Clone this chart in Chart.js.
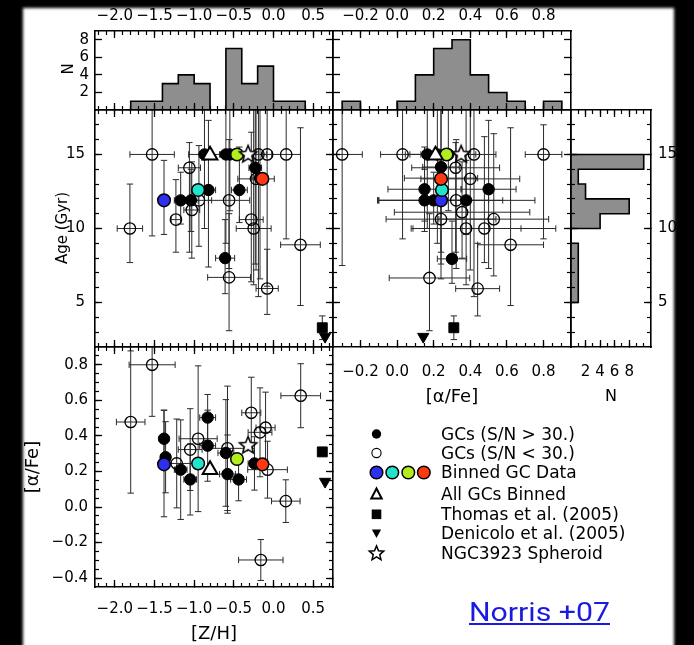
<!DOCTYPE html>
<html>
<head>
<meta charset="utf-8">
<title>Norris +07 - NGC3923 globular clusters</title>
<script src="https://cdn.jsdelivr.net/npm/chart.js@4.4.1/dist/chart.umd.min.js"></script>
<style>
  html, body { margin: 0; padding: 0; background: #000; }
  #page { position: relative; width: 694px; height: 645px; overflow: hidden; background: #000; }
  #paper { position: absolute; left: 23px; top: 8px; width: 651px; height: 660px; background: #fff; filter: blur(1.5px); }
  #page canvas, #page svg { position: absolute; left: 0; top: 0; }
  .t { position: absolute; font-family: 'DejaVu Sans', sans-serif; color: #000; white-space: nowrap; line-height: 1; transform: translate(-50%, -50%); }
  .r { transform: translate(-50%, -50%) rotate(-90deg); }
  .leg { position: absolute; left: 441px; font-family: 'DejaVu Sans', sans-serif; font-size: 17px; line-height: 20px; white-space: nowrap; color: #000; }
  #cite { position: absolute; left: 469px; top: 600px; font-family: Roboto, sans-serif; font-size: 25px; line-height: 25px; color: #1a1ae0; text-decoration: underline; white-space: nowrap; transform: scaleX(1.21); transform-origin: left center; }
</style>
</head>
<body>
<div id="page">
  <div id="paper"></div>
  <canvas id="cHA" width="694" height="645"></canvas>
  <canvas id="cHB" width="694" height="645"></canvas>
  <canvas id="cHR" width="694" height="645"></canvas>
  <canvas id="cA" width="694" height="645"></canvas>
  <canvas id="cB" width="694" height="645"></canvas>
  <canvas id="cC" width="694" height="645"></canvas>
  <svg id="keys" width="694" height="645"></svg>

  <div class="t r" style="left:68px;top:69px;font-size:15px">N</div>
  <div class="t r" style="left:62px;top:228px;font-size:15px">Age (Gyr)</div>
  <div class="t r" style="left:32px;top:467px;font-size:18px">[α/Fe]</div>
  <div class="t" style="left:214px;top:633px;font-size:18px">[Z/H]</div>
  <div class="t" style="left:452px;top:396px;font-size:18px">[α/Fe]</div>
  <div class="t" style="left:611px;top:396px;font-size:16px">N</div>

  <div class="leg" style="top:424px">GCs (S/N &gt; 30.)</div>
  <div class="leg" style="top:443px">GCs (S/N &lt; 30.)</div>
  <div class="leg" style="top:462px">Binned GC Data</div>
  <div class="leg" style="top:484px">All GCs Binned</div>
  <div class="leg" style="top:504px">Thomas et al. (2005)</div>
  <div class="leg" style="top:523px">Denicolo et al. (2005)</div>
  <div class="leg" style="top:543px">NGC3923 Spheroid</div>

  <a id="cite">Norris +07</a>
</div>

<script>
// ---- axis ranges and tick labels ----
const zhRange = [-2.25, 0.75];
const ageRange = [2, 18];
const afeRangeX = [-0.35, 0.95];
const afeRangeY = [-0.45, 0.9];
const nTopRange = [0, 9];
const nSideRange = [0, 11];

const zhTicks = [-2.0, -1.5, -1.0, -0.5, 0.0, 0.5];
const zhTickLabels = ['−2.0', '−1.5', '−1.0', '−0.5', '0.0', '0.5'];
const ageTicks = [5, 10, 15];
const ageTickLabels = ['5', '10', '15'];
const afeTicksX = [-0.2, 0.0, 0.2, 0.4, 0.6, 0.8];
const afeTickLabelsX = ['−0.2', '0.0', '0.2', '0.4', '0.6', '0.8'];
const afeTicksY = [-0.4, -0.2, 0.0, 0.2, 0.4, 0.6, 0.8];
const afeTickLabelsY = ['−0.4', '−0.2', '0.0', '0.2', '0.4', '0.6', '0.8'];
const nTicks = [2, 4, 6, 8];
const nTickLabels = ['2', '4', '6', '8'];

// ---- histograms (bin edges, counts) ----
const zhBinEdges = [-1.8, -1.6, -1.4, -1.2, -1.0, -0.8, -0.6, -0.4, -0.2, 0.0, 0.2, 0.4];
const zhBinCounts = [1, 1, 3, 4, 3, 0, 7, 3, 5, 1, 1];
const afeBinEdges = [-0.3, -0.2, -0.1, 0.0, 0.1, 0.2, 0.3, 0.4, 0.5, 0.6, 0.7, 0.8, 0.9];
const afeBinCounts = [1, 0, 0, 1, 4, 7, 8, 4, 2, 1, 0, 1];
const ageBinEdges = [5, 6, 7, 8, 9, 10, 11, 12, 13, 14, 15];
const ageBinCounts = [1, 1, 1, 1, 0, 4, 8, 2, 1, 10];

// ---- Age vs [Z/H]: [Z/H], err, age, age low, age high ----
const ageZhHiSN = [
  [-1.38, 0.07, 11.9, 9.6, 14.6], [-1.17, 0.08, 11.9, 10.3, 13.8], [-1.04, 0.09, 11.9, 9.8, 14.0],
  [-0.82, 0.09, 12.6, 7.4, 17.3], [-0.87, 0.20, 15.0, 10.0, 18.5], [-0.60, 0.08, 15.0, 9.0, 18.5],
  [-0.55, 0.10, 15.0, 11.2, 18.5], [-0.23, 0.08, 14.1, 7.6, 18.5], [-0.43, 0.10, 12.6, 10.4, 15.5],
  [-0.61, 0.12, 8.0, 5.6, 10.6], [-0.17, 0.10, 13.4, 6.6, 18.5]
];
const ageZhLoSN = [
  [-1.53, 0.28, 15.0, 9.5, 18.5], [-1.81, 0.16, 10.0, 7.7, 13.0], [-1.23, 0.06, 10.6, 8.4, 13.3],
  [-1.06, 0.14, 14.1, 8.4, 15.8], [-1.03, 0.10, 11.25, 8.0, 14.5], [-0.94, 0.16, 11.9, 8.8, 15.6],
  [-0.56, 0.26, 11.9, 7.3, 16.0], [-0.56, 0.27, 6.7, 3.1, 11.0], [-0.28, 0.15, 10.6, 6.4, 16.5],
  [-0.25, 0.22, 10.0, 6.2, 18.5], [-0.08, 0.14, 5.95, 4.2, 8.6], [0.34, 0.25, 8.9, 4.8, 16.8],
  [0.16, 0.18, 15.0, 9.3, 18.5], [-0.19, 0.10, 15.0, 5.4, 18.5], [-0.08, 0.06, 15.0, 6.1, 18.5],
  [-0.22, 0.23, 13.35, 7.2, 18.5]
];

// ---- Age vs [alpha/Fe]: [a/Fe], err, age, age low, age high ----
const ageAfeHiSN = [
  [0.165, 0.12, 15.0, 10.0, 18.5], [0.22, 0.15, 15.0, 9.0, 18.5], [0.28, 0.15, 15.0, 11.2, 18.5],
  [0.24, 0.10, 14.15, 7.6, 18.5], [0.24, 0.20, 13.4, 6.6, 18.5], [0.15, 0.20, 12.65, 10.5, 15.5],
  [0.50, 0.15, 12.65, 7.3, 17.3], [0.15, 0.25, 11.9, 9.8, 14.0], [0.20, 0.30, 11.9, 10.3, 13.8],
  [0.377, 0.20, 11.9, 9.6, 14.6], [0.30, 0.08, 7.95, 6.3, 10.5]
];
const ageAfeLoSN = [
  [-0.30, 0.11, 15.0, 7.5, 18.5], [0.03, 0.12, 15.0, 9.3, 18.5], [0.42, 0.12, 15.0, 5.4, 18.5],
  [0.80, 0.10, 15.0, 9.3, 17.0], [0.32, 0.24, 14.1, 8.4, 15.8], [0.40, 0.27, 13.35, 7.2, 18.5],
  [0.323, 0.43, 11.9, 7.3, 16.0], [0.355, 0.37, 11.1, 8.0, 14.5], [0.24, 0.30, 10.63, 8.4, 13.3],
  [0.528, 0.30, 10.63, 6.8, 16.4], [0.377, 0.30, 10.0, 6.2, 18.5], [0.477, 0.39, 10.0, 7.7, 16.2],
  [0.62, 0.18, 8.9, 4.8, 16.8], [0.177, 0.22, 6.66, 3.1, 11.0], [0.44, 0.12, 5.94, 4.1, 9.0]
];

// ---- [alpha/Fe] vs [Z/H]: [Z/H], err, [a/Fe], err ----
const afeZhHiSN = [
  [-1.38, 0.06, 0.384, 0.16], [-1.36, 0.06, 0.28, 0.20], [-1.38, 0.06, 0.245, 0.30],
  [-1.17, 0.08, 0.21, 0.28], [-1.05, 0.08, 0.155, 0.20], [-0.83, 0.10, 0.503, 0.13],
  [-0.83, 0.10, 0.345, 0.20], [-0.60, 0.10, 0.304, 0.30], [-0.58, 0.10, 0.185, 0.22],
  [-0.44, 0.10, 0.155, 0.12], [-0.24, 0.08, 0.245, 0.15]
];
const afeZhLoSN = [
  [-1.53, 0.29, 0.80, 0.29], [-1.80, 0.18, 0.478, 0.40], [-1.22, 0.20, 0.245, 0.25],
  [-1.05, 0.15, 0.323, 0.23], [-0.95, 0.24, 0.384, 0.41], [-0.58, 0.25, 0.33, 0.35],
  [-0.28, 0.12, 0.53, 0.20], [-0.17, 0.15, 0.42, 0.25], [-0.10, 0.12, 0.446, 0.20],
  [-0.075, 0.25, 0.21, 0.16], [0.155, 0.18, 0.033, 0.12], [0.343, 0.25, 0.626, 0.18],
  [-0.16, 0.28, -0.298, 0.115]
];

// ---- binned points and comparison objects ----
const binZh = [-1.38, -0.95, -0.46, -0.14];
const binAfe = [0.24, 0.245, 0.27, 0.24];
const binAge = [11.9, 12.6, 15.0, 13.35];
const binColors = ['#2f2ff0', '#22e4cc', '#b2ee1e', '#ff3a12'];
const allBinned = { zh: -0.80, afe: 0.21, age: 14.95 };
const spheroid = { zh: -0.32, afe: 0.35, age: 15.05 };
const thomas05 = { zh: 0.615, afe: 0.31, age: 3.3, ageErr: 0.8 };
const denicolo05 = { zh: 0.65, afe: 0.143, age: 2.7 };

// ---- layout ----
const W = 694, H = 645;
const X0 = 95, X1 = 333, X2 = 571, X3 = 651;
const Y0 = 31, Y1 = 110, Y2 = 347, Y3 = 587;
const tickFont = { family: 'DejaVu Sans', size: 15 };
const labelBox = { left: 50, right: 30, top: 30, bottom: 36 };

function starPoints(cx, cy, R, ratio) {
  const pts = [];
  for (let k = 0; k < 10; k++) {
    const rad = k % 2 ? R * ratio : R;
    const a = -Math.PI / 2 + k * Math.PI / 5;
    pts.push([cx + rad * Math.cos(a), cy + rad * Math.sin(a)]);
  }
  return pts;
}

const starImg = (() => {
  const s = 22, c = document.createElement('canvas');
  c.width = c.height = s;
  const g = c.getContext('2d');
  g.beginPath();
  starPoints(s / 2, s / 2 + 0.8, 9, 0.45).forEach((p, i) => i ? g.lineTo(p[0], p[1]) : g.moveTo(p[0], p[1]));
  g.closePath();
  g.fillStyle = '#fff'; g.fill();
  g.lineWidth = 1.6; g.strokeStyle = '#000'; g.stroke();
  return c;
})();

// one side of a panel frame: major ticks (+labels) and minor ticks, all pointing inward
function side(id, pos, range, major, labels, pad, minorStep) {
  const horiz = pos === 'top' || pos === 'bottom';
  const size = labels ? labelBox[pos] : 0;
  const common = { type: 'linear', axis: horiz ? 'x' : 'y', position: pos, min: range[0], max: range[1] };
  const scales = {};
  scales[id] = Object.assign({}, common, {
    weight: 1,
    afterFit: s => { if (horiz) s.height = size; else s.width = size; },
    afterBuildTicks: s => { s.ticks = major.map(v => ({ value: v })); },
    grid: { drawOnChartArea: false, tickLength: -7, tickWidth: 1.3, tickColor: '#000', z: 1 },
    border: { display: true, color: '#000', width: 1.6, z: 1 },
    ticks: labels
      ? { autoSkip: false, maxTicksLimit: 100, maxRotation: 0, minRotation: 0, padding: pad, color: '#000', font: tickFont, callback: (v, i) => labels[i] }
      : { display: false, maxTicksLimit: 100 }
  });
  if (minorStep) {
    const minor = [];
    const k0 = Math.ceil(range[0] / minorStep + 1e-6), k1 = Math.floor(range[1] / minorStep - 1e-6);
    for (let k = k0; k <= k1; k++) minor.push(+(k * minorStep).toFixed(4));
    scales[id + 'm'] = Object.assign({}, common, {
      weight: 0,
      afterFit: s => { if (horiz) s.height = 0; else s.width = 0; },
      afterBuildTicks: s => { s.ticks = minor.map(v => ({ value: v })); },
      grid: { drawOnChartArea: false, tickLength: -4, tickWidth: 1.2, tickColor: '#000', z: 1 },
      border: { display: false },
      ticks: { display: false, maxTicksLimit: 1000 }
    });
  }
  return { scales, pos, size };
}

function panel(id, box, sides, datasets) {
  const scales = {}, used = { left: 0, right: 0, top: 0, bottom: 0 };
  sides.forEach(s => { Object.assign(scales, s.scales); used[s.pos] = Math.max(used[s.pos], s.size); });
  return new Chart(document.getElementById(id), {
    type: 'scatter',
    data: { datasets },
    options: {
      responsive: false, animation: false, events: [],
      layout: {
        autoPadding: false,
        padding: { left: box[0] - used.left, top: box[1] - used.top, right: W - box[2] - used.right, bottom: H - box[3] - used.bottom }
      },
      plugins: { legend: { display: false }, tooltip: { enabled: false } },
      scales
    }
  });
}

// histogram outlines through the library's stepped lines
function stepsUp(edges, counts) {
  const pts = [{ x: edges[0], y: 0 }];
  counts.forEach((c, i) => pts.push({ x: edges[i], y: c }));
  pts.push({ x: edges[edges.length - 1], y: 0 });
  return pts;
}
function stepsSide(edges, counts) {
  const pts = [{ x: 0, y: edges[0] }];
  counts.forEach((c, i) => pts.push({ x: c, y: edges[i] }));
  pts.push({ x: 0, y: edges[edges.length - 1] });
  return pts;
}
const histStyle = { showLine: true, pointRadius: 0, borderColor: '#000', borderWidth: 1.6, backgroundColor: '#8e8e8e', xAxisID: 'x', yAxisID: 'y' };

// error bars: segments separated by gaps, caps drawn as 'line' points
function errorBars(pts) {
  const v = [], h = [];
  pts.forEach(p => {
    if (p.y0 !== p.y1) v.push({ x: p.x, y: p.y0 }, { x: p.x, y: p.y1 }, { x: p.x, y: null });
    if (p.x0 !== p.x1) h.push({ x: p.x0, y: p.y }, { x: p.x1, y: p.y }, { x: null, y: p.y });
  });
  const common = {
    showLine: true, spanGaps: false, borderColor: '#2a2a2a', borderWidth: 1,
    pointStyle: 'line', pointRadius: 3.2, pointBorderColor: '#2a2a2a', pointBorderWidth: 1,
    clip: 0, order: 20, xAxisID: 'x', yAxisID: 'y'
  };
  return [
    Object.assign({ data: v, pointRotation: 0 }, common),
    Object.assign({ data: h, pointRotation: 90 }, common)
  ];
}

const dot = (pts, style) => Object.assign({ data: pts, xAxisID: 'x', yAxisID: 'y', pointStyle: 'circle' }, style);

function gcSets(hi, lo, bins, all, sph, tho, den, extraBars) {
  return [
    dot([sph], { pointStyle: starImg, pointRadius: 10, order: 0 }),
    dot([all], { pointStyle: 'triangle', pointRadius: 8.5, backgroundColor: '#fff', borderColor: '#000', borderWidth: 2, order: 1 }),
    dot(bins, { pointRadius: 6.3, backgroundColor: binColors, borderColor: '#000', borderWidth: 1.5, order: 2 }),
    dot([tho], { pointStyle: 'rect', pointRadius: 7, backgroundColor: '#000', borderColor: '#000', borderWidth: 1, order: 3 }),
    dot([den], { pointStyle: 'triangle', pointRotation: 180, pointRadius: 6.5, backgroundColor: '#000', borderColor: '#000', borderWidth: 1, order: 3 }),
    dot(hi, { pointRadius: 5.7, backgroundColor: '#000', borderColor: '#000', borderWidth: 1, order: 4 }),
    dot(lo, { pointRadius: 5.7, backgroundColor: 'rgba(0,0,0,0)', borderColor: '#000', borderWidth: 1.3, order: 5 })
  ].concat(errorBars(hi.concat(lo, extraBars)));
}

const rangeRow = r => ({ x: r[0], y: r[2], x0: r[0] - r[1], x1: r[0] + r[1], y0: r[3], y1: r[4] });
const symRow = r => ({ x: r[0], y: r[2], x0: r[0] - r[1], x1: r[0] + r[1], y0: r[2] - r[3], y1: r[2] + r[3] });
const thomasBar = x => ({ x, y: thomas05.age, x0: x, x1: x, y0: thomas05.age - thomas05.ageErr, y1: thomas05.age + thomas05.ageErr });

// ---- top-left histogram: [Z/H] ----
panel('cHA', [X0, Y0, X1, Y1], [
    side('x', 'bottom', zhRange, zhTicks, null, 0, 0.1),
    side('xt', 'top', zhRange, zhTicks, zhTickLabels, 13, 0.1),
    side('y', 'left', nTopRange, nTicks, nTickLabels, 13, 0),
    side('yr', 'right', nTopRange, nTicks, null, 0, 0)],
  [Object.assign({ data: stepsUp(zhBinEdges, zhBinCounts), stepped: 'before', fill: 'origin' }, histStyle)]);

// ---- top-middle histogram: [alpha/Fe] ----
panel('cHB', [X1, Y0, X2, Y1], [
    side('x', 'bottom', afeRangeX, afeTicksX, null, 0, 0.05),
    side('xt', 'top', afeRangeX, afeTicksX, afeTickLabelsX, 13, 0.05),
    side('y', 'left', nTopRange, nTicks, null, 0, 0),
    side('yr', 'right', nTopRange, nTicks, null, 0, 0)],
  [Object.assign({ data: stepsUp(afeBinEdges, afeBinCounts), stepped: 'before', fill: 'origin' }, histStyle)]);

// ---- right histogram: age ----
panel('cHR', [X2, Y1, X3, Y2], [
    side('x', 'bottom', nSideRange, nTicks, nTickLabels, 23.5, 1),
    side('xt', 'top', nSideRange, nTicks, null, 0, 1),
    side('y', 'left', ageRange, ageTicks, null, 0, 1),
    side('yr', 'right', ageRange, ageTicks, ageTickLabels, 14, 1)],
  [Object.assign({ data: stepsSide(ageBinEdges, ageBinCounts), stepped: 'after', fill: 'shape' }, histStyle)]);

// ---- Age vs [Z/H] ----
panel('cA', [X0, Y1, X1, Y2], [
    side('x', 'bottom', zhRange, zhTicks, null, 0, 0.1),
    side('xt', 'top', zhRange, zhTicks, null, 0, 0.1),
    side('y', 'left', ageRange, ageTicks, ageTickLabels, 17, 1),
    side('yr', 'right', ageRange, ageTicks, null, 0, 1)],
  gcSets(ageZhHiSN.map(rangeRow), ageZhLoSN.map(rangeRow),
    binZh.map((z, i) => ({ x: z, y: binAge[i] })),
    { x: allBinned.zh, y: allBinned.age }, { x: spheroid.zh, y: spheroid.age },
    { x: thomas05.zh, y: thomas05.age }, { x: denicolo05.zh, y: denicolo05.age },
    [thomasBar(thomas05.zh)]));

// ---- Age vs [alpha/Fe] ----
panel('cB', [X1, Y1, X2, Y2], [
    side('x', 'bottom', afeRangeX, afeTicksX, afeTickLabelsX, 23.5, 0.05),
    side('xt', 'top', afeRangeX, afeTicksX, null, 0, 0.05),
    side('y', 'left', ageRange, ageTicks, null, 0, 1),
    side('yr', 'right', ageRange, ageTicks, null, 0, 1)],
  gcSets(ageAfeHiSN.map(rangeRow), ageAfeLoSN.map(rangeRow),
    binAfe.map((a, i) => ({ x: a, y: binAge[i] })),
    { x: allBinned.afe, y: allBinned.age }, { x: spheroid.afe, y: spheroid.age },
    { x: thomas05.afe, y: thomas05.age }, { x: denicolo05.afe, y: denicolo05.age },
    [thomasBar(thomas05.afe)]));

// ---- [alpha/Fe] vs [Z/H] ----
panel('cC', [X0, Y2, X1, Y3], [
    side('x', 'bottom', zhRange, zhTicks, zhTickLabels, 20, 0.1),
    side('xt', 'top', zhRange, zhTicks, null, 0, 0.1),
    side('y', 'left', afeRangeY, afeTicksY, afeTickLabelsY, 14, 0.05),
    side('yr', 'right', afeRangeY, afeTicksY, null, 0, 0.05)],
  gcSets(afeZhHiSN.map(symRow), afeZhLoSN.map(symRow),
    binZh.map((z, i) => ({ x: z, y: binAfe[i] })),
    { x: allBinned.zh, y: allBinned.afe }, { x: spheroid.zh, y: spheroid.afe },
    { x: thomas05.zh, y: thomas05.afe }, { x: denicolo05.zh, y: denicolo05.afe },
    []));

// ---- legend keys ----
(function () {
  const kx = 376.5;
  const star = starPoints(kx, 553.5, 7.6, 0.45).map(p => p[0].toFixed(2) + ',' + p[1].toFixed(2)).join(' ');
  let s = '';
  s += `<circle cx="${kx}" cy="434" r="4.7" fill="#000"/>`;
  s += `<circle cx="${kx}" cy="453" r="4.6" fill="none" stroke="#000" stroke-width="1.1"/>`;
  [376.5, 392.3, 408.3, 423.8].forEach((x, i) => {
    s += `<circle cx="${x}" cy="472.5" r="6.3" fill="${binColors[i]}" stroke="#000" stroke-width="1.5"/>`;
  });
  s += `<polygon points="${kx},488.5 ${kx + 5.2},498.5 ${kx - 5.2},498.5" fill="none" stroke="#000" stroke-width="2"/>`;
  s += `<rect x="${kx - 4.8}" y="509.5" width="9.6" height="9.6" fill="#000"/>`;
  s += `<polygon points="${kx - 4.6},529.5 ${kx + 4.6},529.5 ${kx},538" fill="#000"/>`;
  s += `<polygon points="${star}" fill="#fff" stroke="#000" stroke-width="1.5"/>`;
  document.getElementById('keys').innerHTML = s;
})();
</script>
</body>
</html>
